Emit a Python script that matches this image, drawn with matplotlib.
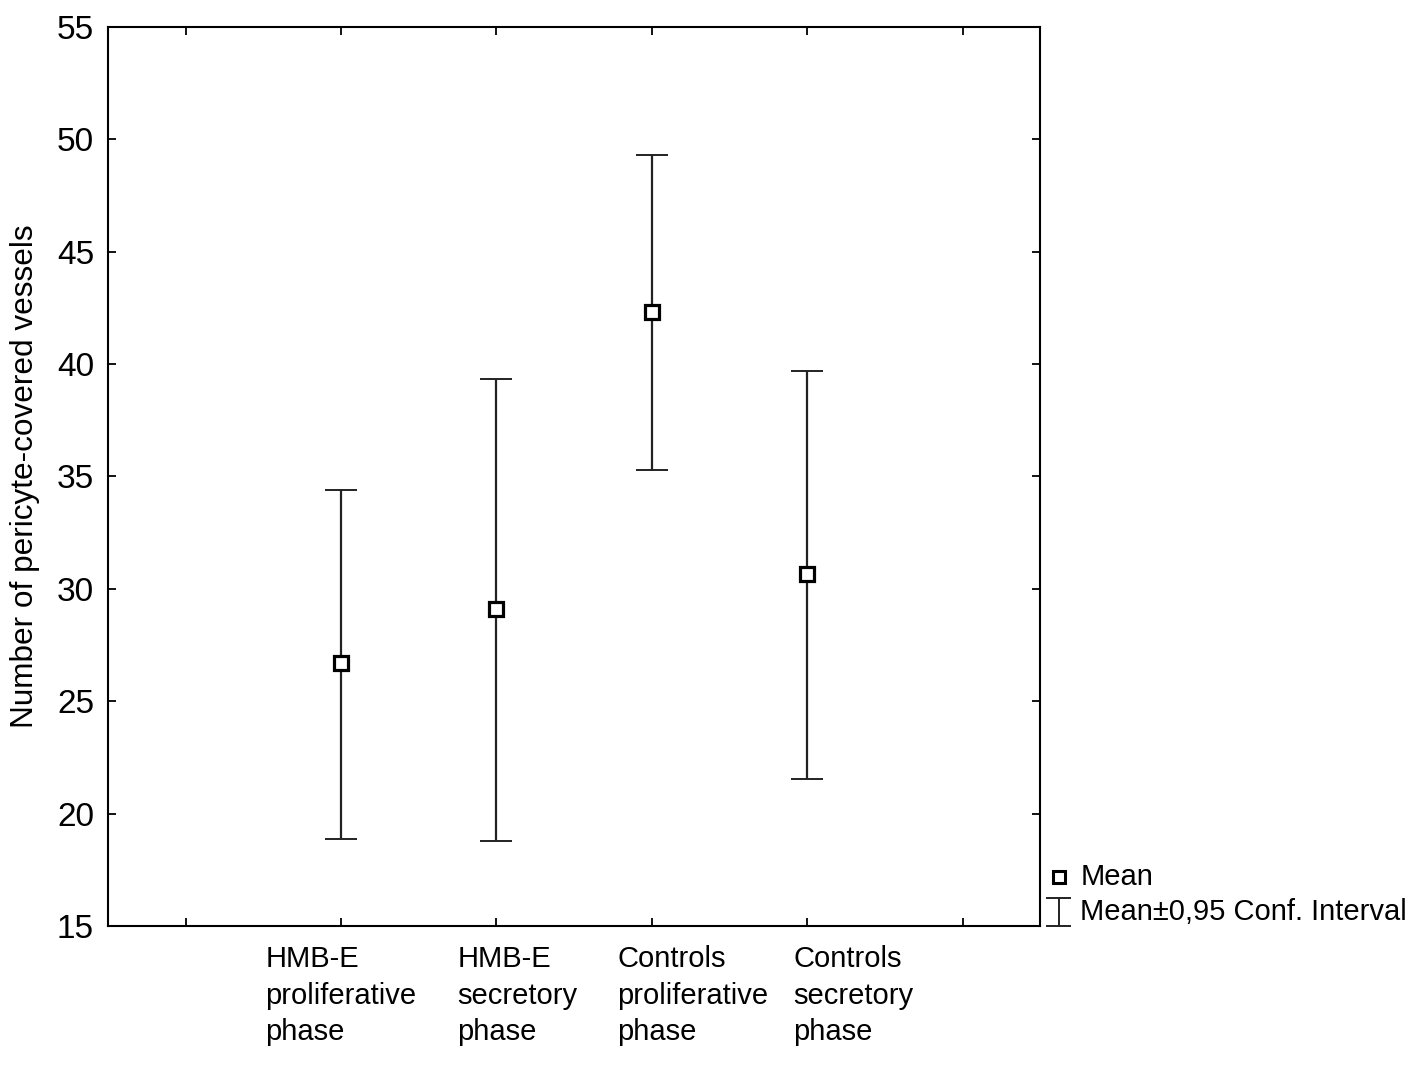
import numpy as np
import matplotlib.pyplot as plt
from matplotlib.transforms import ScaledTranslation, blended_transform_factory

# ======= Data =======
GROUPS = ["HMB-E\nproliferative\nphase",
          "HMB-E\nsecretory\nphase",
          "Controls\nproliferative\nphase",
          "Controls\nsecretory\nphase"]
MEANS = [26.7, 29.1, 42.3, 30.65]
CI_UPPER = [34.4, 39.35, 49.3, 39.7]
CI_LOWER = [18.85, 18.8, 35.3, 21.55]
Y_TICKS = [15, 20, 25, 30, 35, 40, 45, 50, 55]
# ====================

# horizontal nudge (pixels) of each category label, as laid out in the source
LABEL_SHIFT_PX = [0, 21, 41, 46]

plt.rcParams["font.family"] = ["Liberation Sans", "DejaVu Sans"]

fig = plt.figure(figsize=(14.17, 10.68), dpi=100)
ax = fig.add_axes([0.0762, 0.133, 0.658, 0.8417])

x = np.arange(1, len(GROUPS) + 1)
means = np.array(MEANS)
yerr = np.vstack([means - np.array(CI_LOWER), np.array(CI_UPPER) - means])

ax.errorbar(x, means, yerr=yerr, fmt="none", ecolor="#222222",
            elinewidth=1.6, capsize=11.5, capthick=1.4, zorder=2)
ax.plot(x, means, ls="none", marker="s", ms=10.5, mfc="white",
        mec="black", mew=2.3, zorder=3)

ax.set_xlim(-0.5, 5.5)
ax.set_ylim(15, 55)
ax.set_xticks(np.arange(0, 6))
ax.set_xticklabels([])

# category labels as separate texts so they can be nudged like the source
base = blended_transform_factory(ax.transData, ax.transAxes)
for xi, name, dx in zip(x, GROUPS, LABEL_SHIFT_PX):
    off = ScaledTranslation(dx / 100, -19 / 100, fig.dpi_scale_trans)
    ax.text(xi, 0, name, transform=base + off, fontsize=21,
            linespacing=1.39, ha="center", va="top", multialignment="left")

ax.set_yticks(Y_TICKS)
ax.set_yticklabels([str(v) for v in Y_TICKS], fontsize=24)
ax.tick_params(direction="in", top=True, right=True, length=6, width=1.3)
ax.tick_params(axis="y", pad=10)
for s in ax.spines.values():
    s.set_linewidth(1.5)

ax.set_ylabel("Number of pericyte-covered vessels", fontsize=22.7,
              labelpad=12)

# Legend drawn outside the axes, Statistica-style
tr = ax.transAxes
ax.plot([1.0195], [0.0545], transform=tr, clip_on=False, ls="none",
        marker="s", ms=9, mfc="white", mec="black", mew=2.2)
ax.text(1.043, 0.0545, "Mean", transform=tr, fontsize=21, va="center")
ax.plot([1.0195, 1.0195], [0.0, 0.031], transform=tr, clip_on=False,
        color="#222222", lw=1.4)
for yy in (0.0, 0.031):
    ax.plot([1.0075, 1.0315], [yy, yy], transform=tr, clip_on=False,
            color="#222222", lw=1.4)
ax.text(1.043, 0.0155, "Mean\u00b10,95 Conf. Interval", transform=tr,
        fontsize=21, va="center")

fig.savefig("out.png", dpi=100)
